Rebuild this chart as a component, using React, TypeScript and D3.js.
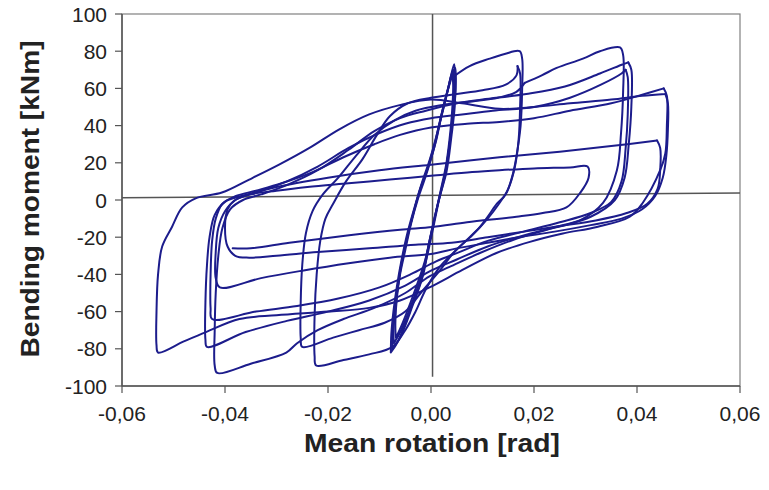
import React from "react";
import * as d3 from "d3";

const xTicks = [-0.06, -0.04, -0.02, 0, 0.02, 0.04, 0.06];
const yTicks = [-100, -80, -60, -40, -20, 0, 20, 40, 60, 80, 100];

// Elastic cycles
const cycleE1: [number, number][] = [[-0.0075,-80],[-0.006,-74],[-0.0036,-57],[-0.0015,-40],[-0.0003,-22],[0.0015,0],[0.003,15],[0.004,35],[0.0046,50],[0.0047,62],[0.0045,73],[0.0035,62],[0.002,45],[0.001,32],[-0.0005,18],[-0.0022,5],[-0.0035,-8],[-0.0048,-22],[-0.0058,-35],[-0.0065,-48],[-0.0072,-62],[-0.0075,-72],[-0.0075,-80]];
const cycleE2: [number, number][] = [[-0.0072,-77],[-0.0058,-70],[-0.0035,-54],[-0.0013,-36],[0.0002,-18],[0.0017,2],[0.003,18],[0.0039,37],[0.0044,52],[0.0045,63],[0.0043,70],[0.0033,60],[0.0018,43],[0.0007,30],[-0.0008,16],[-0.0024,3],[-0.0037,-10],[-0.0049,-24],[-0.0059,-37],[-0.0066,-50],[-0.0071,-63],[-0.0073,-72],[-0.0072,-77]];
const cycleE3: [number, number][] = [[-0.0068,-74],[-0.0055,-66],[-0.0033,-50],[-0.0012,-33],[0.0003,-15],[0.0018,4],[0.003,20],[0.0038,38],[0.0042,52],[0.0043,62],[0.0041,68],[0.0031,57],[0.0016,40],[0.0005,27],[-0.001,13],[-0.0026,0],[-0.0039,-13],[-0.005,-27],[-0.006,-40],[-0.0066,-52],[-0.0069,-64],[-0.0069,-71],[-0.0068,-74]];
const cycleE4: [number, number][] = [[-0.0078,-82],[-0.0064,-76],[-0.0042,-60],[-0.002,-44],[-0.0006,-26],[0.001,-6],[0.0026,12],[0.0037,32],[0.0044,48],[0.0048,60],[0.0047,71],[0.0038,64],[0.0023,49],[0.0012,36],[-0.0002,22],[-0.0018,9],[-0.0032,-4],[-0.0046,-18],[-0.0057,-32],[-0.0066,-46],[-0.0073,-60],[-0.0077,-72],[-0.0078,-82]];

// +-0.02 cycles
const cycleC1: [number, number][] = [[0.0042,66],[0.0075,72],[0.0114,76],[0.0143,78.5],[0.0172,80],[0.0177,76],[0.0177,60],[0.0174,40],[0.0165,22],[0.0159,14],[0.0145,3],[0.0128,-2],[0.011,-9],[0.0095,-14.5],[0.006,-24],[0.0017,-36],[-0.001,-48],[-0.003,-60],[-0.005,-70],[-0.0075,-79],[-0.012,-83],[-0.017,-86],[-0.0223,-89],[-0.0226,-84],[-0.0226,-62],[-0.0222,-40],[-0.0215,-22],[-0.0205,-10],[-0.019,-2],[-0.0165,10],[-0.0133,22],[-0.0105,35],[-0.008,45],[-0.0045,52],[0,55],[0.005,57],[0.01,59],[0.0145,62],[0.0166,67],[0.0168,72]];
const cycleC2: [number, number][] = [[0.0168,72],[0.0173,68],[0.0173,50],[0.017,32],[0.0163,18],[0.015,6],[0.0132,-2],[0.011,-10],[0.008,-19],[0.0045,-28],[0.0017,-38],[-0.002,-50],[-0.005,-60],[-0.009,-66],[-0.014,-70],[-0.019,-74],[-0.025,-79],[-0.0253,-74],[-0.0253,-55],[-0.025,-35],[-0.0243,-18],[-0.023,-6],[-0.021,3],[-0.018,12],[-0.0145,24],[-0.011,35],[-0.007,43],[-0.003,48],[0.002,51],[0.008,53],[0.013,55],[0.0165,58],[0.0182,63]];

// +-0.04 cycles
const cycleD1: [number, number][] = [[0.0182,63],[0.0215,67],[0.0244,71],[0.0295,76],[0.0328,80],[0.0367,82],[0.0373,78],[0.0373,58],[0.0369,36],[0.0361,16],[0.0334,-1.6],[0.0289,-11],[0.0225,-16],[0.0159,-21.5],[0.0095,-28.5],[0.0036,-36],[-0.0003,-41],[-0.005,-50],[-0.011,-58],[-0.017,-64],[-0.022,-70],[-0.026,-77],[-0.0281,-82],[-0.035,-88],[-0.0415,-93],[-0.042,-89],[-0.042,-70],[-0.0418,-50],[-0.0413,-30],[-0.0405,-15],[-0.039,-5],[-0.0365,0],[-0.033,3],[-0.028,8],[-0.022,16],[-0.016,27],[-0.011,37],[-0.006,44],[-0.001,48],[0.005,52],[0.01,54],[0.0185,57],[0.026,61],[0.0328,68],[0.0373,73],[0.0383,74]];
const cycleD2: [number, number][] = [[0.0383,74],[0.0389,70],[0.0389,50],[0.0384,30],[0.0376,12],[0.0357,0],[0.031,-9],[0.025,-14],[0.018,-19],[0.011,-25],[0.005,-32],[0,-38],[-0.005,-46],[-0.012,-54],[-0.02,-60],[-0.028,-65],[-0.036,-71],[-0.0435,-79],[-0.0438,-75],[-0.0438,-55],[-0.0435,-35],[-0.043,-20],[-0.042,-8],[-0.04,-1],[-0.037,2],[-0.033,5],[-0.028,10],[-0.022,18],[-0.016,28],[-0.01,36],[-0.005,41],[0,44],[0.006,46],[0.012,48],[0.02,50],[0.027,55],[0.033,62],[0.037,68],[0.0378,70]];
const cycleD3: [number, number][] = [[0.0378,70],[0.0382,66],[0.0382,46],[0.0378,28],[0.037,10],[0.035,-1],[0.031,-7],[0.025,-12],[0.018,-17],[0.011,-22],[0.0055,-28],[0.001,-33],[-0.004,-40],[-0.01,-47],[-0.018,-53],[-0.026,-57],[-0.034,-60],[-0.0425,-64],[-0.0428,-58],[-0.0428,-40],[-0.0425,-22],[-0.0418,-10],[-0.0405,-2],[-0.038,2],[-0.034,5],[-0.029,9],[-0.023,15],[-0.017,23],[-0.011,30],[-0.006,35],[0,39],[0.007,41],[0.0133,42],[0.02,44],[0.027,48],[0.035,52],[0.0415,57],[0.0452,60]];

// largest cycle
const cycleF: [number, number][] = [[0.0452,60],[0.0458,56],[0.0458,40],[0.0455,25],[0.0445,16],[0.0411,-1.6],[0.0386,-9],[0.0322,-14.5],[0.0256,-18],[0.0192,-22.5],[0.0127,-28.5],[0.0061,-37.6],[-0.0003,-47],[-0.006,-54],[-0.012,-58],[-0.02,-60],[-0.03,-62],[-0.0372,-64],[-0.0437,-71],[-0.048,-76],[-0.053,-82],[-0.0533,-78],[-0.0533,-60],[-0.053,-40],[-0.0522,-25],[-0.0503,-14.5],[-0.0483,-4],[-0.0456,1],[-0.0406,4],[-0.0353,11],[-0.0295,19],[-0.0236,28],[-0.0178,38],[-0.012,46],[-0.0061,51],[0,54],[0.006,52],[0.0133,49],[0.02,50],[0.027,52],[0.035,54],[0.041,56],[0.0455,57]];

// degraded cycles
const cycleG1: [number, number][] = [[0.0455,57],[0.046,52],[0.046,38],[0.0457,24],[0.045,12],[0.0435,2],[0.041,-5],[0.037,-10],[0.031,-13.5],[0.024,-17],[0.017,-20],[0.011,-23],[0.005,-26],[0,-29],[-0.008,-31],[-0.016,-34],[-0.025,-38],[-0.033,-42],[-0.041,-47],[-0.0418,-42],[-0.0418,-28],[-0.0413,-15],[-0.04,-6],[-0.038,0],[-0.034,4],[-0.03,7],[-0.02,12],[-0.01,16],[0,19],[0.0133,23],[0.025,26],[0.035,29],[0.0439,32]];
const cycleG2: [number, number][] = [[0.0439,32],[0.0445,28],[0.0445,16],[0.044,6],[0.042,-2],[0.038,-7],[0.032,-11],[0.025,-14],[0.018,-17],[0.011,-20],[0.004,-23],[-0.003,-24],[-0.012,-26],[-0.022,-28],[-0.03,-30],[-0.0353,-31],[-0.038,-30],[-0.0395,-25],[-0.04,-15],[-0.0395,-5],[-0.038,0],[-0.035,3],[-0.03,5],[-0.024,7],[-0.016,9],[-0.008,11],[0,13],[0.008,15],[0.0133,16],[0.02,17],[0.027,17.5],[0.0304,18],[0.0306,12],[0.029,4],[0.0263,-4],[0.0217,-7],[0.0166,-9],[0.007,-12],[0.0003,-14.5],[-0.006,-16],[-0.0159,-19],[-0.0275,-23],[-0.035,-26],[-0.0385,-26]];

const cycles = [cycleE1, cycleE2, cycleE3, cycleE4, cycleC1, cycleC2, cycleD1, cycleD2, cycleD3, cycleF, cycleG1, cycleG2];

const zeroLine: [number, number][] = [[-0.06, 1.2], [0.06, 3.8]];
const originLine: [number, number][] = [[0.0003, 100], [0.0003, -95]];

export default function App() {
  const W = 769, H = 490;
  const x = d3.scaleLinear().domain([-0.06, 0.06]).range([122, 740]);
  const y = d3.scaleLinear().domain([-100, 100]).range([386, 14]);
  const line = d3.line<[number, number]>()
    .x(d => x(d[0]))
    .y(d => y(d[1]))
    .curve(d3.curveCatmullRom.alpha(0.5));
  const straight = d3.line<[number, number]>().x(d => x(d[0])).y(d => y(d[1]));
  const fmt = (v: number) => v.toFixed(2).replace(".", ",");
  const font = "'Liberation Sans', Arial, Helvetica, sans-serif";
  const dataColor = "#1c1c8c";

  return (
    <svg width={W} height={H} style={{ position: "absolute", left: 0, top: 0, background: "#fff" }}>
      <rect x={0} y={0} width={W} height={H} fill="#fff" />
      <rect x={x(-0.06)} y={y(100)} width={x(0.06) - x(-0.06)} height={y(-100) - y(100)} fill="none" stroke="#808080" strokeWidth={1.2} />
      <line x1={x(-0.06)} x2={x(-0.06)} y1={y(100)} y2={y(-100)} stroke="#555" strokeWidth={1.5} />
      <line x1={x(-0.06)} x2={x(0.06)} y1={y(-100)} y2={y(-100)} stroke="#555" strokeWidth={1.5} />
      {yTicks.map(t => (
        <g key={"y" + t}>
          <line x1={x(-0.06) - 7} x2={x(-0.06)} y1={y(t)} y2={y(t)} stroke="#555" strokeWidth={1.2} />
          <text x={107} y={y(t) + 7.5} textAnchor="end" fontFamily={font} fontSize={21} fill="#222">{t}</text>
        </g>
      ))}
      {xTicks.map(t => (
        <g key={"x" + t}>
          <line x1={x(t)} x2={x(t)} y1={y(-100)} y2={y(-100) + 7} stroke="#555" strokeWidth={1.2} />
          <text x={x(t)} y={421} textAnchor="middle" fontFamily={font} fontSize={21} fill="#222">{fmt(t)}</text>
        </g>
      ))}
      <path d={straight(zeroLine) || ""} stroke="#555" strokeWidth={1.5} fill="none" />
      <path d={straight(originLine) || ""} stroke="#555" strokeWidth={1.5} fill="none" />
      <g fill="none" stroke={dataColor} strokeWidth={2} strokeLinejoin="round" strokeLinecap="round">
        {cycles.map((c, i) => (
          <path key={i} d={line(c) || ""} />
        ))}
      </g>
      <text x={432} y={452} textAnchor="middle" fontFamily={font} fontWeight="bold" fontSize={25} fill="#222" textLength={256} lengthAdjust="spacingAndGlyphs">Mean rotation [rad]</text>
      <text transform={`translate(39,${199}) rotate(-90)`} textAnchor="middle" fontFamily={font} fontWeight="bold" fontSize={25} fill="#222" textLength={317} lengthAdjust="spacingAndGlyphs">Bending moment [kNm]</text>
    </svg>
  );
}
